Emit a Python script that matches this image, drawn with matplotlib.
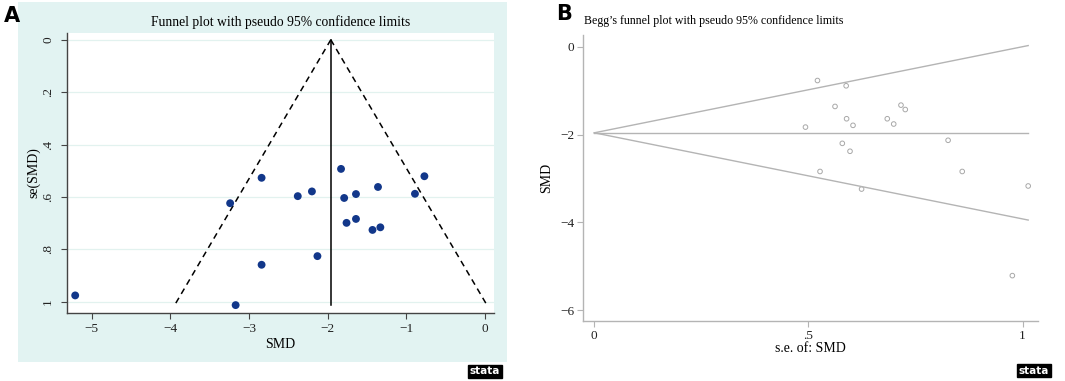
import matplotlib
matplotlib.use("Agg")
import matplotlib.pyplot as plt
from matplotlib.patches import Rectangle
import numpy as np

# Study-level estimates
smd = [-5.21, -3.17, -3.24, -2.84, -2.84, -2.38, -2.20, -2.13, -1.83,
       -1.79, -1.64, -1.76, -1.64, -1.36, -1.43, -1.33, -0.89, -0.77]
se = [0.976, 1.013, 0.624, 0.527, 0.859, 0.597, 0.579, 0.826, 0.493,
      0.604, 0.589, 0.699, 0.684, 0.562, 0.726, 0.716, 0.588, 0.521]
pooled = -1.96

a_xticks = [-5, -4, -3, -2, -1, 0]
a_yticks = [0, 0.2, 0.4, 0.6, 0.8, 1.0]
a_ylabels = ["0", ".2", ".4", ".6", ".8", "1"]
b_xticks = [0, 0.5, 1]
b_xlabels = ["0", ".5", "1"]
b_yticks = [0, -2, -4, -6]

SERIF = "Liberation Serif"
TEAL = "#e2f3f2"
NAVY = "#12378a"
LGREY = "#b4b4b4"

smd = np.array(smd)
se = np.array(se)
se_max = se.max()


def minus(t):
    return f"\u2212{abs(t)}" if t < 0 else str(t)


fig = plt.figure(figsize=(10.65, 3.81), dpi=100)
fig.patch.set_facecolor("white")

# ---------------- panel A ----------------
fig.patches.append(Rectangle((18 / 1065, 1 - 362 / 381), (507 - 18) / 1065, (362 - 2) / 381,
                             transform=fig.transFigure, facecolor=TEAL, edgecolor="none",
                             zorder=-10))
axa = fig.add_axes([66.7 / 1065, 1 - 312.7 / 381, 427.3 / 1065, 280 / 381])
axa.set_facecolor("white")
for y in a_yticks:
    axa.axhline(y, color="#e2f2ef", lw=0.9, zorder=1)
s_line = np.array([0, se_max])
axa.plot(pooled - 1.96 * s_line, s_line, color="black", lw=1.1, dashes=(4, 3), zorder=2)
axa.plot(pooled + 1.96 * s_line, s_line, color="black", lw=1.1, dashes=(4, 3), zorder=2)
axa.plot([pooled, pooled], s_line, "-", color="black", lw=1.1, zorder=2)
axa.scatter(smd, se, s=32, color=NAVY, edgecolors="none", zorder=3)
axa.set_xlim(-5.318, 0.115)
axa.set_ylim(1.042, -0.027)
axa.set_xticks(a_xticks)
axa.set_xticklabels([minus(t) for t in a_xticks])
axa.set_yticks(a_yticks)
axa.set_yticklabels(a_ylabels, rotation=90, va="center")
for side in ("top", "right"):
    axa.spines[side].set_visible(False)
for side in ("left", "bottom"):
    axa.spines[side].set_color("#444444")
    axa.spines[side].set_linewidth(1.0)
axa.tick_params(direction="out", length=4, width=0.8, color="#444444",
                labelsize=9.5, labelcolor="#222222")
axa.tick_params(axis="y", pad=5)
for lab in axa.get_xticklabels() + axa.get_yticklabels():
    lab.set_family(SERIF)
axa.set_xlabel("SMD", family=SERIF, fontsize=10, labelpad=2)
axa.set_ylabel("se(SMD)", family=SERIF, fontsize=10, labelpad=1)
fig.text(281 / 1065, 1 - 22 / 381, "Funnel plot with pseudo 95% confidence limits",
         family=SERIF, fontsize=9.8, ha="center", va="center")
fig.text(4 / 1065, 1 - 16 / 381, "A", fontsize=15, fontweight="bold", ha="left", va="center")
fig.text(485 / 1065, 1 - 371.5 / 381, "stata", fontsize=7.5, fontweight="bold", color="white",
         ha="center", va="center", family="DejaVu Sans",
         bbox=dict(boxstyle="square,pad=0.15", facecolor="black", edgecolor="black"))

# ---------------- panel B ----------------
axb = fig.add_axes([583.3 / 1065, 1 - 320.7 / 381, 455 / 1065, 285.7 / 381])
axb.plot([0, se_max], [pooled, pooled + 1.96 * se_max], color=LGREY, lw=1.0)
axb.plot([0, se_max], [pooled, pooled - 1.96 * se_max], color=LGREY, lw=1.0)
axb.plot([0, se_max], [pooled, pooled], color=LGREY, lw=1.0)
axb.scatter(se, smd, s=11, facecolors="none", edgecolors="#a8a8a8", linewidths=0.7)
axb.set_xlim(-0.0257, 1.0366)
axb.set_ylim(-6.236, 0.266)
axb.set_xticks(b_xticks)
axb.set_xticklabels(b_xlabels)
axb.set_yticks(b_yticks)
axb.set_yticklabels([minus(t) for t in b_yticks])
for side in ("top", "right"):
    axb.spines[side].set_visible(False)
for side in ("left", "bottom"):
    axb.spines[side].set_color(LGREY)
    axb.spines[side].set_linewidth(1.0)
axb.tick_params(direction="out", length=4, width=0.8, color=LGREY,
                labelsize=9.5, labelcolor="#222222", pad=2.5)
for lab in axb.get_xticklabels() + axb.get_yticklabels():
    lab.set_family(SERIF)
axb.set_xlabel("s.e. of: SMD", family=SERIF, fontsize=10, labelpad=0.5)
axb.set_ylabel("SMD", family=SERIF, fontsize=10, labelpad=5)
fig.text(584 / 1065, 1 - 21 / 381, "Begg\u2019s funnel plot with pseudo 95% confidence limits",
         family=SERIF, fontsize=8.6, ha="left", va="center")
fig.text(556 / 1065, 1 - 14 / 381, "B", fontsize=15, fontweight="bold", ha="left", va="center")
fig.text(1034 / 1065, 1 - 370.5 / 381, "stata", fontsize=7.5, fontweight="bold", color="white",
         ha="center", va="center", family="DejaVu Sans",
         bbox=dict(boxstyle="square,pad=0.15", facecolor="black", edgecolor="black"))

fig.savefig("out.png", dpi=100)
